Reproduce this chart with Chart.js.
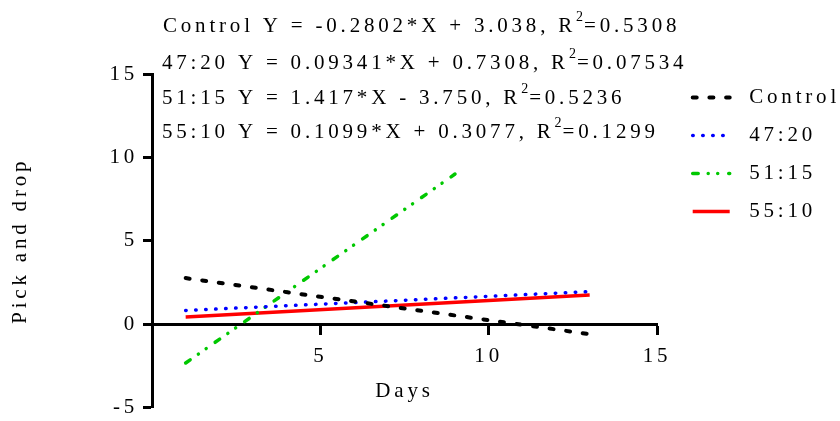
<!DOCTYPE html>
<html>
<head>
<meta charset="utf-8">
<title>Pick and drop</title>
<script src="https://cdn.jsdelivr.net/npm/chart.js@4.4.1/dist/chart.umd.min.js"></script>
<style>
  body { margin: 0; background: #fff; }
  canvas { display: block; }
</style>
</head>
<body>
<canvas id="chart" width="840" height="421"></canvas>
<script>
const seriesNames = ['Control', '47:20', '51:15', '55:10'];

// fitted lines, end points as [day, value]
const controlLine = [[1, 2.76], [13, -0.60]];
const line4720 = [[1, 0.82], [13, 1.95]];
const line5115 = [[1, -2.33], [9, 9.00]];
const line5510 = [[1, 0.42], [13, 1.74]];

const xTicks = [5, 10, 15];
const yTicks = [-5, 0, 5, 10, 15];

// equations printed above the plot, R squared goes after the superscript
const equationText = [
  'Control Y = -0.2802*X + 3.038, R',
  '47:20 Y = 0.09341*X + 0.7308, R',
  '51:15 Y = 1.417*X - 3.750, R',
  '55:10 Y = 0.1099*X + 0.3077, R'
];
const rSquared = ['0.5308', '0.07534', '0.5236', '0.1299'];

const SPACING = '3.8px';
const FAMILY = "'Liberation Serif', 'Times New Roman', serif";
const FONT = { family: FAMILY, size: 21 };

function toPoints(arr) {
  return arr.map(([x, y]) => ({ x, y }));
}

// the canvas state is reset on resize, so set the spacing again before layout and draw
const spacingPlugin = {
  id: 'letterSpacing',
  beforeUpdate(chart) { chart.ctx.letterSpacing = SPACING; },
  beforeDraw(chart) { chart.ctx.letterSpacing = SPACING; }
};

const equationPlugin = {
  id: 'equations',
  afterDraw(chart) {
    const ctx = chart.ctx;
    const baselines = [32, 68.5, 103.5, 137.5];
    ctx.save();
    ctx.fillStyle = '#000';
    ctx.textBaseline = 'alphabetic';
    ctx.textAlign = 'left';
    equationText.forEach((txt, i) => {
      let x = i === 0 ? 163 : 162;
      const y = baselines[i];
      ctx.letterSpacing = SPACING;
      ctx.font = '21px ' + FAMILY;
      ctx.fillText(txt, x, y);
      x += ctx.measureText(txt).width;
      ctx.letterSpacing = '1px';
      ctx.font = '14px ' + FAMILY;
      ctx.fillText('2', x, y - 11);
      x += ctx.measureText('2').width;
      ctx.letterSpacing = SPACING;
      ctx.font = '21px ' + FAMILY;
      ctx.fillText('=' + rSquared[i], x, y);
    });
    ctx.restore();
  }
};

const datasets = [
  { label: seriesNames[0], data: toPoints(controlLine), borderColor: '#000000', borderWidth: 4,
    borderDash: [4, 12.7], borderCapStyle: 'round' },
  { label: seriesNames[1], data: toPoints(line4720), borderColor: '#0000ff', borderWidth: 3.5,
    borderDash: [0.5, 9.5], borderCapStyle: 'round' },
  { label: seriesNames[2], data: toPoints(line5115), borderColor: '#00c800', borderWidth: 3.5,
    borderDash: [5.5, 10, 0.01, 9.5, 0.01, 11], borderCapStyle: 'round' },
  { label: seriesNames[3], data: toPoints(line5510), borderColor: '#ff0000', borderWidth: 3.5,
    borderDash: [], borderCapStyle: 'butt' }
];

new Chart(document.getElementById('chart'), {
  type: 'line',
  data: { datasets },
  plugins: [spacingPlugin, equationPlugin],
  options: {
    responsive: false,
    animation: false,
    elements: { point: { radius: 0, hoverRadius: 0 }, line: { tension: 0, fill: false } },
    layout: { padding: { left: 0, top: 74, right: 0, bottom: 13.5 } },
    plugins: {
      tooltip: { enabled: false },
      legend: {
        position: 'right',
        align: 'start',
        maxWidth: 164.3,
        // empty title only pulls the rows up a little
        title: { display: true, text: '', font: { size: 1 }, padding: { top: 0, bottom: -5.2 } },
        labels: {
          usePointStyle: true,
          pointStyleWidth: 37,
          padding: 17,
          color: '#000',
          font: FONT,
          generateLabels: chart => chart.data.datasets.map((ds, i) => ({
            text: ' ' + ds.label,
            strokeStyle: ds.borderColor,
            fillStyle: ds.borderColor,
            lineWidth: ds.borderWidth,
            lineDash: ds.borderDash,
            lineCap: ds.borderCapStyle,
            pointStyle: 'line',
            rotation: 180,
            fontColor: '#000',
            hidden: false,
            datasetIndex: i
          }))
        }
      }
    },
    scales: {
      x: {
        type: 'linear',
        min: 0,
        max: 15,
        position: { y: 0 },
        afterBuildTicks: s => { s.ticks = xTicks.map(v => ({ value: v })); },
        afterFit: s => { s.height = 0; },
        grid: { drawOnChartArea: false, tickLength: 9, tickWidth: 3, tickColor: '#000' },
        border: { color: '#000', width: 3 },
        ticks: { color: '#000', font: FONT, padding: 11, maxRotation: 0, autoSkip: false },
        title: { display: true, text: 'Days', color: '#000', font: FONT, padding: { top: 0, bottom: -80 } }
      },
      y: {
        type: 'linear',
        min: -5,
        max: 15,
        position: 'left',
        afterBuildTicks: s => { s.ticks = yTicks.map(v => ({ value: v })); },
        // fixed width, and the end labels may hang into the page padding
        afterFit: s => { s.width = 152; s.paddingTop = 0; s.paddingBottom = 0; },
        grid: { drawOnChartArea: false, tickLength: 9, tickWidth: 3, tickColor: '#000' },
        border: { color: '#000', width: 3 },
        ticks: { color: '#000', font: FONT, padding: 5 },
        title: { display: true, text: 'Pick and drop', color: '#000', font: FONT, padding: { top: 8, bottom: 0 } }
      },
      // keeps a gap between the plot and the legend
      yPad: {
        type: 'linear',
        min: 0,
        max: 1,
        position: 'right',
        grid: { display: false },
        border: { display: false },
        ticks: { display: false },
        afterFit: s => { s.width = 18.7; }
      }
    }
  }
});
</script>
</body>
</html>
